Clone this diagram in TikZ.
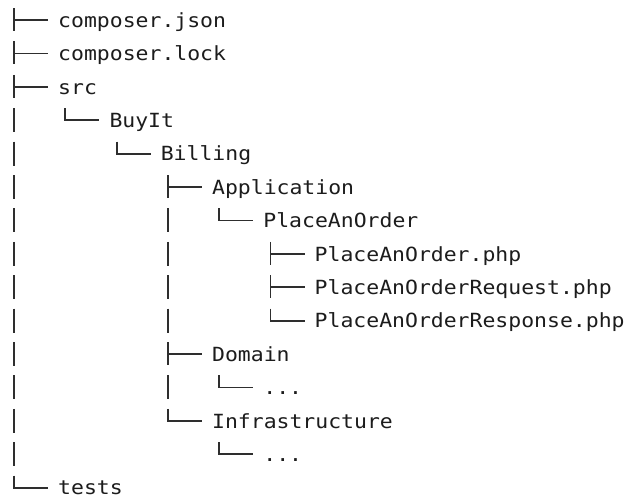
\documentclass[tikz,border=0pt]{standalone}
\usepackage{fontspec}
\newfontfamily\treefont[FakeStretch=1.1]{DejaVu Sans Mono}
\definecolor{textcol}{HTML}{1C1C1C}
\definecolor{linecol}{HTML}{2E2E2E}
\newcommand\elided{...}
\begin{document}
\begin{tikzpicture}[x=1pt,y=1pt,
  branch/.style={draw=linecol,line width=1.8pt},
  entry/.style={anchor=base west,inner sep=0pt,text=textcol,
    font=\treefont\fontsize{19.5}{20}\selectfont}]
\useasboundingbox[fill=white] (0,0) rectangle (628,-498);

% one row per entry: row, depth, name, label
\foreach \r/\l/\id/\txt in {
  0/0/json/composer.json,
  1/0/lock/composer.lock,
  2/0/src/src,
  3/1/buyit/BuyIt,
  4/2/billing/Billing,
  5/3/app/Application,
  6/4/pao/PlaceAnOrder,
  7/5/paophp/PlaceAnOrder.php,
  8/5/req/PlaceAnOrderRequest.php,
  9/5/resp/PlaceAnOrderResponse.php,
  10/3/domain/Domain,
  11/4/domdots/\elided,
  12/3/infra/Infrastructure,
  13/4/infdots/\elided,
  14/0/tests/tests}
{
  \coordinate (\id-k) at ({14+51.3*\l},{-20-33.4*\r});
  \node[entry] (\id) at ([shift={(44pt,-7.3pt)}]\id-k) {\txt};
}

% tee branches
\foreach \id in {json,lock,src,app,paophp,req,domain}
{
  \draw[branch] ([yshift=12pt]\id-k) -- ([yshift=-11pt]\id-k);
  \draw[branch] (\id-k) -- ([xshift=-10pt]\id.base west |- \id-k);
}

% last-child branches
\foreach \id in {buyit,billing,pao,resp,domdots,infra,infdots,tests}
  \draw[branch] ([yshift=12pt]\id-k) -- (\id-k) -- ([xshift=-10pt]\id.base west |- \id-k);

% continuation bars of open directories
\foreach \r in {3,4,5,6,7,8,9,10,11,12,13}
  \draw[branch] ({14},{-8-33.4*\r}) -- ++(0,-24);
\foreach \r in {6,7,8,9,11}
  \draw[branch] ({14+51.3*3},{-8-33.4*\r}) -- ++(0,-24);
\end{tikzpicture}
\end{document}
